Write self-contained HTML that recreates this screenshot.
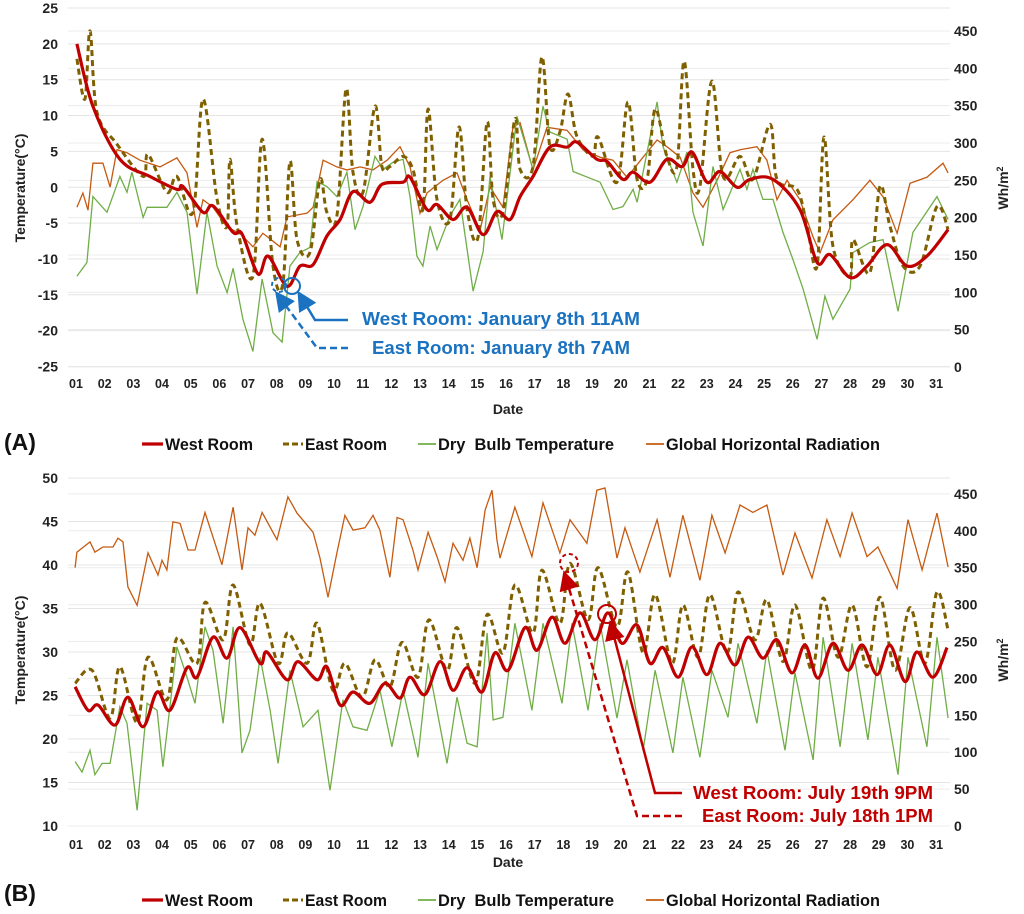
<!DOCTYPE html>
<html><head><meta charset="utf-8"><style>
body{margin:0;background:#fff;}
svg{display:block;font-family:"Liberation Sans",sans-serif;}
</style></head><body>
<svg id="chart" width="1024" height="914" viewBox="0 0 1024 914" xmlns="http://www.w3.org/2000/svg"></svg>
<script>
// ---------- Chart A (January) data: [day, value] ----------
const westA=[[1.03,20],[1.59,11.3],[2.53,3.9],[3.58,1.5],[4.52,-0.3],[4.73,0.1],[5.43,-3.5],[5.78,-2.6],[6.48,-6.3],[6.79,-6.5],[7.35,-12.1],[7.70,-9.6],[8.36,-13.8],[8.81,-11],[9.27,-10.8],[9.75,-6.8],[10.21,-4.5],[10.66,-0.6],[11.25,-2.1],[11.67,0.4],[12.41,0.7],[12.65,1.4],[13.24,-3.1],[13.59,-2.4],[14.15,-4.5],[14.64,-2.8],[15.20,-6.6],[15.68,-3.4],[16.14,-4.5],[16.49,-1.3],[16.94,1.5],[17.53,5.6],[18.13,5.6],[18.47,6.3],[19.17,3.9],[19.52,3.6],[20.08,1.1],[20.43,2.1],[21.02,0.7],[21.61,3.9],[22.14,2.9],[22.49,4.9],[23.01,0.7],[23.46,2.2],[24.06,0],[24.51,1.1],[25.31,1.1],[26.25,-3.1],[26.85,-10.5],[27.30,-9.4],[28.00,-12.6],[28.59,-11],[29.29,-8],[29.99,-11],[30.68,-9.6],[31.42,-5.9]];
const eastA=[[1.03,17.9],[1.31,12.3],[1.49,21.8],[1.73,10.5],[2.43,6],[3.34,1.5],[3.51,4.6],[4.17,-0.7],[4.52,1.5],[5.08,-3.5],[5.43,12.3],[5.92,-1.7],[6.27,-5.4],[6.37,3.9],[6.62,-5.4],[7.17,-12.4],[7.49,6.7],[7.87,-11],[8.22,-13.3],[8.46,3.6],[8.71,-7.3],[9.16,-9.1],[9.51,1.1],[9.75,-3.5],[10.10,-4],[10.42,13.7],[10.66,2.1],[11.01,-0.7],[11.43,11.3],[11.67,2.9],[11.95,2.9],[12.41,4.3],[12.75,2.5],[13.10,-3.1],[13.28,10.9],[13.59,-1.7],[14.04,-4.5],[14.36,8.4],[14.64,-3.1],[15.02,-7],[15.34,9.1],[15.55,-1.7],[15.89,-3.5],[16.31,9.5],[16.49,2.5],[16.94,2.9],[17.25,18.2],[17.53,5.7],[17.88,7.7],[18.16,13],[18.47,7.1],[19.03,4.3],[19.21,7],[19.87,0.7],[20.25,11.9],[20.57,1.1],[20.92,1.1],[21.20,10.9],[21.61,4.3],[21.96,2.9],[22.21,17.6],[22.52,2.5],[22.76,0.1],[23.18,14.8],[23.57,1.5],[24.16,4.3],[24.61,1.1],[25.21,8.8],[25.45,1.1],[26.15,-0.3],[26.50,-5.4],[26.85,-11],[27.09,7],[27.40,-8.2],[28.00,-12.4],[28.10,-7.3],[28.69,-11.9],[29.04,0.1],[29.39,-5.4],[29.85,-11],[30.44,-11],[31.03,-2.7],[31.42,-5.9]];
const dryA=[[1.03,-12.4],[1.38,-10.5],[1.59,-1.3],[2.08,-3.5],[2.53,1.5],[2.78,-0.7],[2.95,2.1],[3.34,-4.2],[3.48,-2.8],[4.17,-2.8],[4.52,-0.7],[4.87,-3.5],[5.22,-14.9],[5.57,-3.5],[5.92,-11],[6.27,-14.7],[6.48,-11.3],[6.82,-18.4],[7.17,-22.9],[7.49,-12.8],[7.87,-20.3],[8.19,-21.6],[8.46,-11],[8.81,-9.1],[9.16,-8.4],[9.41,0.8],[9.75,0.1],[10.10,-1.3],[10.45,2.1],[10.73,-5.9],[11.01,-2.7],[11.43,4.3],[11.71,2.5],[12.06,3.5],[12.41,3.9],[12.65,-1.3],[12.89,-9.6],[13.10,-11],[13.35,-5.4],[13.59,-8.7],[14.04,-4],[14.39,-1.7],[14.85,-14.5],[15.20,-9],[15.44,1.5],[15.86,-7.3],[16.38,9.9],[16.94,2.5],[17.29,11.3],[17.53,7.7],[18.13,6.7],[18.34,2.2],[19.28,0.7],[19.73,-3.1],[20.08,-2.7],[20.43,-0.3],[20.57,-2.1],[21.27,11.9],[21.47,5.7],[21.96,0.7],[22.31,4.9],[22.52,-3.5],[22.87,-8.2],[23.22,2.9],[23.57,-3.1],[24.16,2.5],[24.40,-0.3],[24.61,2.5],[24.96,-1.7],[25.31,-1.7],[25.66,-6.3],[26.01,-10.1],[26.36,-14.2],[26.85,-21.2],[27.12,-15.2],[27.40,-18.4],[28.00,-14.2],[28.10,-9.1],[28.69,-7.7],[29.15,-7.3],[29.67,-17.3],[30.19,-6.3],[31.03,-1.3],[31.42,-4.5]];
const radA=[[1.03,214],[1.24,233],[1.42,210],[1.59,273],[1.94,273],[2.19,241],[2.43,291],[2.78,287],[3.23,277],[3.93,268],[4.52,280],[4.87,260],[5.22,187],[5.43,224],[5.78,214],[6.27,187],[6.72,179],[7.17,161],[7.52,179],[8.12,161],[8.36,201],[9.06,206],[9.27,214],[9.62,277],[10.10,268],[10.45,264],[10.91,268],[11.36,264],[11.85,277],[12.30,295],[12.65,268],[13.00,206],[13.24,233],[13.80,250],[14.29,260],[14.64,224],[15.09,183],[15.44,241],[15.89,214],[16.24,321],[16.49,327],[16.94,264],[17.43,321],[18.13,317],[18.68,291],[19.28,281],[19.73,277],[20.22,254],[20.78,281],[21.27,304],[21.61,295],[22.07,281],[22.52,233],[22.87,214],[23.36,250],[23.81,287],[24.16,291],[24.75,295],[25.10,277],[25.45,224],[25.80,250],[26.25,224],[26.71,174],[26.95,153],[27.40,197],[28.10,224],[28.69,250],[29.15,228],[29.64,179],[30.09,246],[30.68,254],[31.24,273],[31.42,260]];
// ---------- Chart B (July) data ----------
const westB=[[0.97,26],[1.42,23.3],[1.77,23.9],[2.36,21.6],[2.81,24.8],[3.34,21.4],[3.83,25.4],[4.28,23.3],[4.87,28.2],[5.22,27.1],[5.78,31.7],[6.27,29.3],[6.72,32.8],[7.42,28.7],[7.66,30],[8.36,26.8],[8.74,28.9],[9.41,26.8],[9.75,28.3],[10.21,23.9],[10.66,25.4],[11.25,24.1],[11.78,26.4],[12.30,24.7],[12.65,27.1],[13.17,25.1],[13.70,28.9],[14.15,25.6],[14.64,28.2],[15.16,25.4],[15.61,29.9],[16.07,27.9],[16.66,32.8],[17.08,30.2],[17.60,34],[18.06,31],[18.58,34.5],[19.10,31.4],[19.56,34.5],[20.04,31],[20.57,33.1],[21.02,28.7],[21.47,30.5],[22.00,27.1],[22.49,30.6],[23.01,27.4],[23.46,31],[23.99,28.5],[24.44,31.7],[24.96,29.3],[25.45,31.4],[25.97,27.6],[26.43,30.8],[26.88,27],[27.40,31],[27.93,27.9],[28.42,30.8],[28.94,27.4],[29.39,30.8],[29.92,26.6],[30.33,30],[30.89,27.1],[31.38,30.5]];
const eastB=[[0.97,26.4],[1.56,27.9],[2.19,22.4],[2.53,28.3],[3.13,21.9],[3.51,29.4],[4.17,24.5],[4.52,31.6],[5.22,28.7],[5.50,35.7],[6.13,31.4],[6.48,37.7],[7.07,30.8],[7.42,35.6],[8.05,28.7],[8.39,32.2],[9.06,28.7],[9.41,33.3],[9.96,25.6],[10.38,28.7],[10.98,24.8],[11.43,29.1],[11.95,26],[12.37,31.1],[12.93,27.1],[13.31,33.7],[13.94,27.9],[14.29,32.8],[14.92,26.4],[15.34,34.3],[15.89,29.9],[16.31,37.7],[16.94,32.2],[17.25,39.4],[17.88,33.3],[18.23,40.2],[18.86,33.7],[19.21,39.7],[19.87,32.9],[20.25,39.2],[20.78,29.9],[21.20,36.6],[21.79,28.7],[22.17,35.4],[22.70,29.4],[23.11,36.6],[23.71,29.9],[24.09,36.9],[24.68,31.4],[25.10,36],[25.66,28.9],[26.08,35.4],[26.67,27.9],[27.06,36.2],[27.58,29.4],[28.07,35.4],[28.59,28.3],[29.04,36.3],[29.57,27.9],[30.09,35.1],[30.61,28.7],[31.03,36.9],[31.42,32.5]];
const dryB=[[0.97,17.4],[1.21,16.2],[1.49,18.7],[1.66,15.9],[1.91,17.2],[2.19,17.2],[2.53,23.7],[2.78,21.8],[3.13,11.8],[3.48,24.1],[3.83,23.3],[4.03,16.8],[4.52,30.6],[4.87,27.1],[5.15,24.1],[5.50,32.9],[5.78,30.2],[6.13,21.8],[6.48,32.9],[6.79,18.4],[7.07,21],[7.42,29.4],[7.77,23.3],[8.05,17.2],[8.46,27.9],[8.92,21.4],[9.44,23.3],[9.86,14.1],[10.31,24.5],[10.66,21.4],[11.15,21],[11.60,25.6],[12.02,19.1],[12.41,25.6],[12.93,17.9],[13.28,28.7],[13.94,17.2],[14.29,24.8],[14.64,19.5],[14.99,19.1],[15.34,32.2],[15.55,22.2],[15.89,22.5],[16.31,33.3],[16.90,23.3],[17.29,33.3],[17.95,24.1],[18.30,33.3],[18.86,23.3],[19.28,33.3],[19.87,22.4],[20.22,29.1],[20.78,18.7],[21.20,27.9],[21.82,18.4],[22.17,27.1],[22.76,17.9],[23.18,27.9],[23.74,22.5],[24.09,31],[24.75,21.8],[25.10,30.2],[25.73,18.7],[26.08,27.6],[26.71,17.6],[27.06,31.7],[27.65,19.1],[28.07,31],[28.62,19.9],[28.97,29.4],[29.67,15.9],[30.02,29.4],[30.68,19.1],[31.03,31.7],[31.42,22.4]];
const radB=[[0.97,350],[1.03,371],[1.49,385],[1.66,371],[1.94,378],[2.29,378],[2.46,390],[2.64,385],[2.81,324],[3.13,299],[3.51,370],[3.86,340],[4.00,360],[4.17,347],[4.38,412],[4.63,410],[4.91,374],[5.15,374],[5.50,425],[5.85,383],[6.09,354],[6.48,432],[6.79,347],[7.00,404],[7.24,394],[7.49,425],[8.01,388],[8.39,446],[8.71,424],[9.27,398],[9.51,363],[9.79,310],[10.10,370],[10.38,421],[10.66,401],[11.08,404],[11.36,421],[11.60,401],[11.95,337],[12.20,418],[12.41,415],[12.75,374],[12.93,347],[13.28,398],[13.59,365],[13.87,331],[14.15,383],[14.50,360],[14.74,390],[14.99,350],[15.27,428],[15.51,455],[15.68,388],[15.79,363],[16.31,432],[16.90,365],[17.29,438],[17.88,370],[18.23,415],[18.82,383],[19.17,455],[19.45,458],[19.87,363],[20.15,404],[20.67,344],[21.27,415],[21.72,337],[22.17,421],[22.76,333],[23.18,421],[23.64,370],[24.16,435],[24.61,425],[25.10,435],[25.66,340],[26.08,397],[26.67,336],[27.19,415],[27.65,365],[28.07,424],[28.59,365],[28.97,378],[29.64,322],[30.02,415],[30.51,347],[31.03,424],[31.42,351]];
// ---------- ticks ----------
const dayLabels=["01","02","03","04","05","06","07","08","09","10","11","12","13","14","15","16","17","18","19","20","21","22","23","24","25","26","27","28","29","30","31"];
const tempTicksA=[25,20,15,10,5,0,-5,-10,-15,-20,-25];
const tempTicksB=[50,45,40,35,30,25,20,15,10];
const radTicks=[450,400,350,300,250,200,150,100,50,0];

const NS="http://www.w3.org/2000/svg";
const svg=document.getElementById('chart');
function mk(tag,attrs,parent){const e=document.createElementNS(NS,tag);for(const k in attrs)e.setAttribute(k,attrs[k]);(parent||svg).appendChild(e);return e;}
function txt(s,attrs,parent){const e=mk('text',attrs,parent);e.textContent=s;return e;}
const xDay=d=>76+(d-1)*28.67;

function linePath(pts,fx,fy){return pts.map((p,i)=>(i?'L':'M')+fx(p[0]).toFixed(1)+','+fy(p[1]).toFixed(1)).join('');}
function smoothPath(pts,fx,fy){
  const P=pts.map(p=>[fx(p[0]),fy(p[1])]);let d='M'+P[0][0].toFixed(1)+','+P[0][1].toFixed(1);
  for(let i=0;i<P.length-1;i++){const p0=P[i-1]||P[i],p1=P[i],p2=P[i+1],p3=P[i+2]||P[i+1];
    const c1=[p1[0]+(p2[0]-p0[0])/6,p1[1]+(p2[1]-p0[1])/6],c2=[p2[0]-(p3[0]-p1[0])/6,p2[1]-(p3[1]-p1[1])/6];
    d+='C'+c1[0].toFixed(1)+','+c1[1].toFixed(1)+' '+c2[0].toFixed(1)+','+c2[1].toFixed(1)+' '+p2[0].toFixed(1)+','+p2[1].toFixed(1);}
  return d;}

function drawChart(cfg){
  const g=mk('g',{});
  
  
  const yT=v=>cfg.tTop+(cfg.tMax-v)*cfg.tScale;
  const yR=v=>cfg.rBot-v*cfg.rScale;
  cfg.tTicks.forEach(v=>{const l=mk('line',{x1:68,x2:950,y1:yT(v),y2:yT(v),stroke:'#e4e4e4','stroke-width':1},g);
    
    });
  radTicks.forEach(v=>{const l=mk('line',{x1:68,x2:950,y1:yR(v),y2:yR(v),stroke:'#ececec','stroke-width':1},g);
    
    });
  cfg.tTicks.forEach(v=>{const t=txt(String(v),{x:58,y:yT(v)+5,'text-anchor':'end','font-size':14,'font-weight':'bold',fill:'#222'},g);
    
    });
  radTicks.forEach(v=>{const t=txt(String(v),{x:954,y:yR(v)+5,'font-size':14,'font-weight':'bold',fill:'#222'},g);
    
    });
  dayLabels.forEach((s,i)=>{const t=txt(s,{x:xDay(i+1),y:cfg.dateY,'text-anchor':'middle','font-size':12.5,'font-weight':'bold',fill:'#222'},g);
    
    });
  const xt=txt('Date',{x:508,y:cfg.dateTitleY,'text-anchor':'middle','font-size':14,'font-weight':'bold',fill:'#222'},g);
  
  
  const yl=txt('Temperature(°C)',{x:0,y:0,'text-anchor':'middle','font-size':14,'font-weight':'bold',fill:'#222',transform:`translate(25,${cfg.tTitleY}) rotate(-90)`},g);
  
  
  const yr=mk('text',{x:0,y:0,'text-anchor':'middle','font-size':14,'font-weight':'bold',fill:'#222',transform:`translate(1008,${cfg.rTitleY}) rotate(-90)`},g);
  yr.innerHTML='Wh/m<tspan dy="-5" font-size="9">2</tspan>';
  
  
  const s1=mk('path',{d:linePath(cfg.rad,xDay,yR),fill:'none',stroke:'#c55a11','stroke-width':1.3},g);
  
  
  const s2=mk('path',{d:linePath(cfg.dry,xDay,yT),fill:'none',stroke:'#70ad47','stroke-width':1.3},g);
  
  
  const s3=mk('path',{d:smoothPath(cfg.east,xDay,yT),fill:'none',stroke:'#7f6000','stroke-width':3,'stroke-dasharray':'6,4'},g);
  
  
  const s4=mk('path',{d:smoothPath(cfg.west,xDay,yT),fill:'none',stroke:'#c00000','stroke-width':3.2},g);
  
  
  // legend
  const ly=cfg.legendY;
  const lg=mk('g',{},g);
  
  
  const items=[[142,163,'#c00000',3.2,'','West Room',88],[283,303,'#7f6000',3,'6,3','East Room',82],[418,436,'#70ad47',1.8,'','Dry  Bulb Temperature',176],[646,664,'#c55a11',1.8,'','Global Horizontal Radiation',214]];
  items.forEach(it=>{const e=mk('g',{},lg);
    
    
    mk('line',{x1:it[0],x2:it[1],y1:ly,y2:ly,stroke:it[2],'stroke-width':it[3],'stroke-dasharray':it[4]||'none'},e);
    const t=txt(it[5],{x:it[1]+2,y:ly+6,'font-size':17,'font-weight':'bold',fill:'#111',textLength:it[6],lengthAdjust:'spacingAndGlyphs'},e);
    t.style.whiteSpace='pre';});
  const pl=txt(cfg.panel,{x:4,y:cfg.panelY,'font-size':23,'font-weight':'bold',fill:'#111'},g);
  
  
}
drawChart({name:'chart-a-january',tTop:8,tMax:25,tScale:7.17,rBot:367,rScale:0.7467,tTicks:tempTicksA,dateY:388,dateTitleY:414,tTitleY:188,rTitleY:188,legendY:444,panel:'(A)',panelY:450,west:westA,east:eastA,dry:dryA,rad:radA});
drawChart({name:'chart-b-july',tTop:478,tMax:50,tScale:8.7,rBot:826,rScale:0.738,tTicks:tempTicksB,dateY:849,dateTitleY:867,tTitleY:650,rTitleY:660,legendY:900,panel:'(B)',panelY:901,west:westB,east:eastB,dry:dryB,rad:radB});

// annotations
const an=mk('g',{});


const blue='#1a72c0',red='#c00000';
mk('defs',{},an).innerHTML='<marker id="ab" markerWidth="8" markerHeight="8" refX="6" refY="4" orient="auto"><path d="M0,0L8,4L0,8z" fill="'+blue+'"/></marker><marker id="ar" markerWidth="8" markerHeight="8" refX="6" refY="4" orient="auto"><path d="M0,0L8,4L0,8z" fill="'+red+'"/></marker>';
mk('circle',{cx:279,cy:285,r:7,fill:'none',stroke:blue,'stroke-width':2,'stroke-dasharray':'4,3'},an);
mk('circle',{cx:292,cy:286,r:8,fill:'none',stroke:blue,'stroke-width':2},an);
mk('path',{d:'M348,320 L315,320 L300,295',fill:'none',stroke:blue,'stroke-width':2.5,'marker-end':'url(#ab)'},an);
mk('path',{d:'M348,348 L317,348 L278,295',fill:'none',stroke:blue,'stroke-width':2.5,'stroke-dasharray':'7,4','marker-end':'url(#ab)'},an);
const t1=txt('West Room: January 8th 11AM',{x:362,y:325,'font-size':18,'font-weight':'bold',fill:blue,textLength:278,lengthAdjust:'spacingAndGlyphs'},an);


const t2=txt('East Room: January 8th 7AM',{x:372,y:354,'font-size':18,'font-weight':'bold',fill:blue,textLength:258,lengthAdjust:'spacingAndGlyphs'},an);


mk('circle',{cx:569,cy:563,r:9,fill:'none',stroke:red,'stroke-width':2,'stroke-dasharray':'4,3'},an);
mk('circle',{cx:607,cy:614,r:9,fill:'none',stroke:red,'stroke-width':2},an);
mk('path',{d:'M682,793 L655,793 L611,625',fill:'none',stroke:red,'stroke-width':2.5,'marker-end':'url(#ar)'},an);
mk('path',{d:'M682,816 L637,816 L565,575',fill:'none',stroke:red,'stroke-width':2.5,'stroke-dasharray':'7,4','marker-end':'url(#ar)'},an);
const t3=txt('West Room: July 19th 9PM',{x:693,y:799,'font-size':18,'font-weight':'bold',fill:red,textLength:240,lengthAdjust:'spacingAndGlyphs'},an);


const t4=txt('East Room: July 18th 1PM',{x:702,y:822,'font-size':18,'font-weight':'bold',fill:red,textLength:231,lengthAdjust:'spacingAndGlyphs'},an);


</script>
</body></html>
